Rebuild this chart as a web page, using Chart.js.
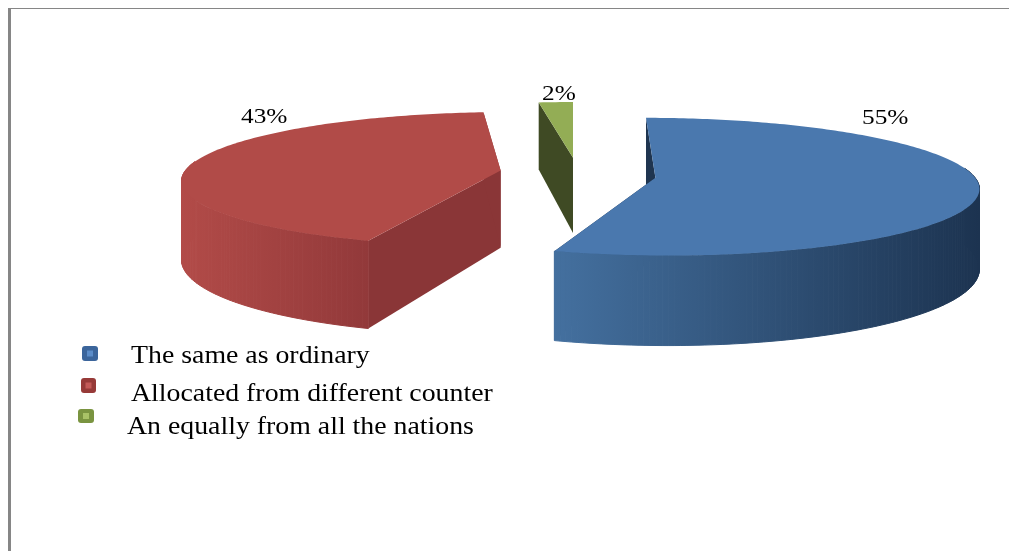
<!DOCTYPE html>
<html>
<head>
<meta charset="utf-8">
<title>Pie</title>
<script src="https://cdn.jsdelivr.net/npm/chart.js@4"></script>
<style>
    html, body { margin: 0; padding: 0; background: #fff; overflow: hidden; }
    #wrap { position: relative; width: 1009px; height: 551px; }
    #frame { position: absolute; left: 8px; top: 8px; right: 0; bottom: 0; border-left: 3px solid #868686; border-top: 1px solid #868686; }
    canvas { position: absolute; left: 0; top: 0; }
</style>
</head>
<body>
<div id="wrap">
    <div id="frame"></div>
    <canvas id="pie" width="1009" height="551"></canvas>
</div>
<script>
// Data
const categories = ['The same as ordinary', 'Allocated from different counter', 'An equally from all the nations'];
const shares = [55, 43, 2];
const pctLabels = ['55%', '43%', '2%'];

// Colours per slice
const topColors = ['#4a78ae', '#b14b48', '#93ad55'];
const faceColors = ['#1f3550', '#8a3637', '#3f4a24'];
const wallStops = [['#44709f', '#1c3350'], ['#b24b48', '#92393a'], ['#3f4a24', '#3f4a24']];
const bulletColors = ['#3b659b', '#973a38', '#7a9440'];
const bulletInner = ['#5b8cc8', '#c45a58', '#a9c267'];

// Look of the 3d pie
const pullX = [82, -73, 0];      // how far each slice is pulled out
const pullY = [13, -22, -85];
const turn = [1, 3, 1];          // small per slice turn in degrees, the original has perspective
const tilt = 0.2106;             // vertical squash of the pie plane
const focal = 2470;              // perspective distance
const depth = 78;                // height of the walls

// Where the texts go
const pctPos = [[862, 124], [241, 123], [542, 100]];
const legendPos = [[131, 363], [131, 401], [127, 434]];
const bulletPos = [[82, 346, 16, 15], [81, 378, 15, 15], [78, 409, 16, 14]];

function project(arc, X, Y, z) {
    const s = focal / (focal - Y);
    return [arc.x + X * s, arc.y + Y * tilt * s + z * s];
}

function pathOf(ctx, pts) {
    ctx.beginPath();
    pts.forEach((p, i) => i ? ctx.lineTo(p[0], p[1]) : ctx.moveTo(p[0], p[1]));
    ctx.closePath();
}

function stretchedText(ctx, txt, x, y, sx) {
    ctx.save();
    ctx.translate(x, y);
    ctx.scale(sx, 1);
    ctx.fillText(txt, 0, 0);
    ctx.restore();
}

const pie3d = {
    id: 'pie3d',
    beforeDatasetsDraw(chart) {
        const ctx = chart.ctx;
        const arcs = chart.getDatasetMeta(0).data;
        [2, 1, 0].forEach(i => {
            const a = arcs[i].getProps(['x', 'y', 'startAngle', 'endAngle', 'outerRadius']);
            const r = a.outerRadius;
            const t0 = a.startAngle + turn[i] * Math.PI / 180;
            const t1 = a.endAngle + turn[i] * Math.PI / 180;
            const ox = pullX[i], oy = pullY[i];
            const n = Math.ceil((t1 - t0) * 60);
            const rim = [];
            for (let j = 0; j <= n; j++) {
                const t = t0 + (t1 - t0) * j / n;
                rim.push({ t, X: ox + Math.cos(t) * r, Y: oy + Math.sin(t) * r });
            }
            const first = rim[0], last = rim[n];

            // straight cut faces
            ctx.fillStyle = faceColors[i];
            [first, last].forEach(e => {
                pathOf(ctx, [project(a, ox, oy, 0), project(a, e.X, e.Y, 0), project(a, e.X, e.Y, depth), project(a, ox, oy, depth)]);
                ctx.fill();
            });

            // curved wall, strip by strip, only the part that faces us (a bit more so the sides stay closed)
            const front = rim.filter(p => Math.sin(p.t) > -0.15);
            if (front.length > 1 && i < 2) {
                const xs = front.map(p => project(a, p.X, p.Y, 0)[0]);
                const g = ctx.createLinearGradient(Math.min(...xs), 0, Math.max(...xs), 0);
                g.addColorStop(0, wallStops[i][0]);
                g.addColorStop(1, wallStops[i][1]);
                ctx.fillStyle = g;
                ctx.strokeStyle = g;
                ctx.lineWidth = 1;
                for (let j = 1; j < front.length; j++) {
                    const p = front[j - 1], q = front[j];
                    pathOf(ctx, [project(a, p.X, p.Y, 0), project(a, q.X, q.Y, 0), project(a, q.X, q.Y, depth), project(a, p.X, p.Y, depth)]);
                    ctx.fill();
                    ctx.stroke();
                }
            }

            // top of the slice
            ctx.fillStyle = topColors[i];
            pathOf(ctx, [project(a, ox, oy, 0)].concat(rim.map(p => project(a, p.X, p.Y, 0))));
            ctx.fill();
        });
        return false;
    },
    afterDraw(chart) {
        const ctx = chart.ctx;
        ctx.save();
        ctx.fillStyle = '#000';
        ctx.textBaseline = 'alphabetic';
        ctx.font = '22px "Liberation Serif"';
        pctLabels.forEach((txt, i) => stretchedText(ctx, txt, pctPos[i][0], pctPos[i][1], 1.15));
        ctx.font = '26px "Liberation Serif"';
        categories.forEach((txt, i) => {
            const b = bulletPos[i];
            ctx.fillStyle = bulletColors[i];
            ctx.beginPath();
            ctx.roundRect(b[0], b[1], b[2], b[3], 3);
            ctx.fill();
            ctx.fillStyle = bulletInner[i];
            ctx.fillRect(b[0] + b[2] / 2 - 3, b[1] + b[3] / 2 - 3, 6, 6);
            ctx.fillStyle = '#000';
            stretchedText(ctx, txt, legendPos[i][0], legendPos[i][1], 1.07);
        });
        ctx.restore();
    }
};

new Chart(document.getElementById('pie'), {
    type: 'pie',
    data: {
        labels: categories,
        datasets: [{ data: shares, backgroundColor: topColors, borderWidth: 0 }]
    },
    options: {
        responsive: false,
        animation: false,
        rotation: -1,
        radius: 318,
        // centre of the pie sits at 573,175
        layout: { padding: { left: 137, right: 0, top: 0, bottom: 201 } },
        plugins: { legend: { display: false }, tooltip: { enabled: false } }
    },
    plugins: [pie3d]
});
</script>
</body>
</html>
